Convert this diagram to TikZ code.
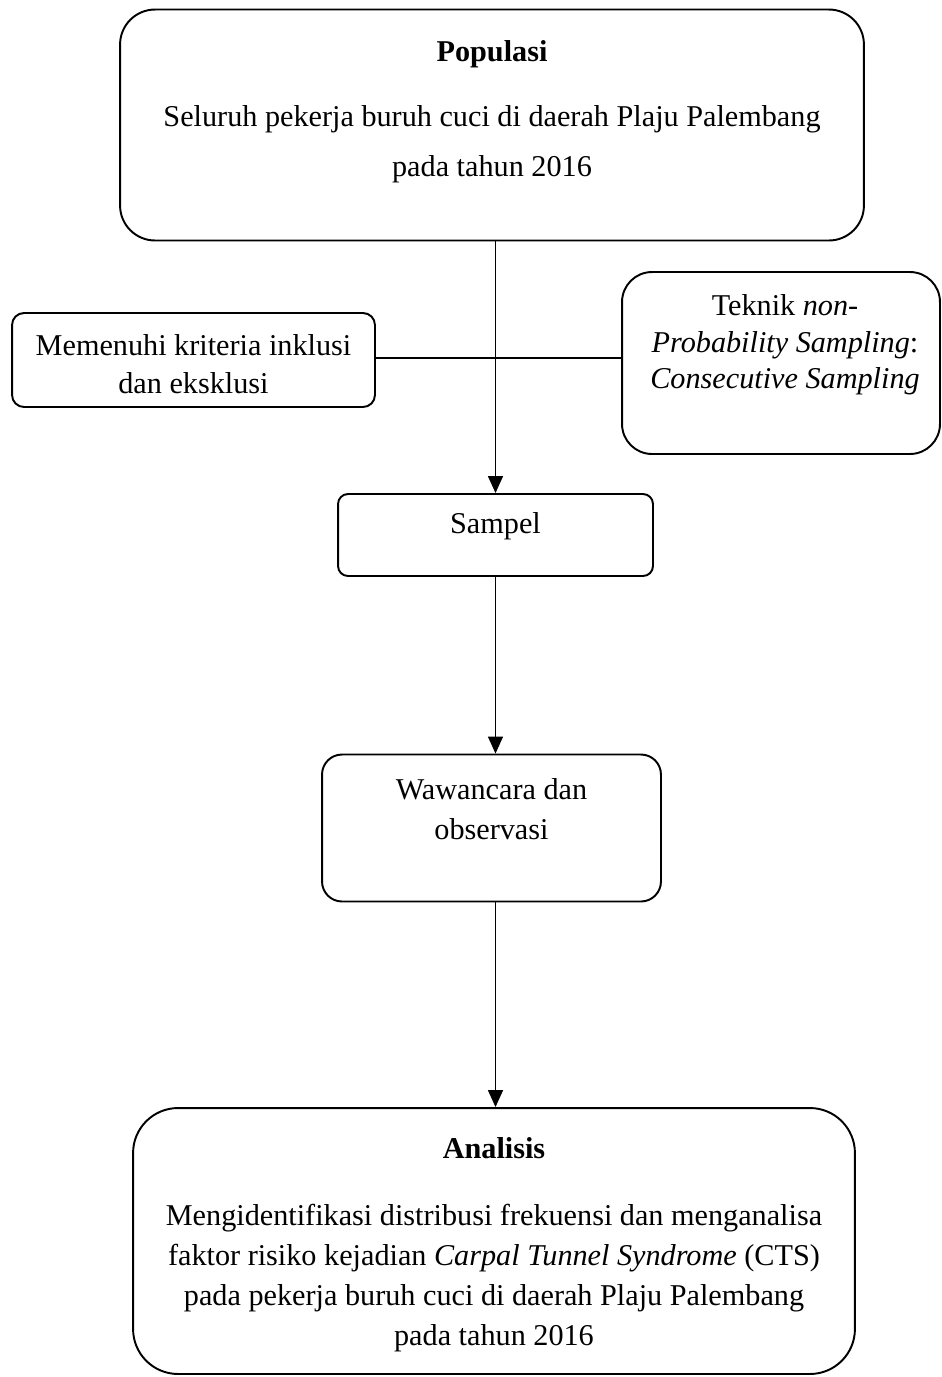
\documentclass[tikz,border=0pt]{standalone}
\usepackage{fontspec}
\setmainfont{Liberation Serif}
\usetikzlibrary{arrows.meta}

\begin{document}
\begin{tikzpicture}[->,>={Triangle[width=0.3cm,length=0.34cm]},line width=0.8pt,x=0.02cm,y=-0.02cm]
    \tikzstyle{box}=[draw=black, line width=1.1pt, rectangle, fill=none, inner sep=0pt]
    \tikzstyle{txt}=[align=center, text=black, inner sep=0pt, font=\fontsize{17.2}{22.8}\selectfont]
    \useasboundingbox (0,0) rectangle (942,1377);

    \node[box, minimum width=14.88cm, minimum height=4.62cm, rounded corners=0.7cm] (pop) at (492,125) {};
    \node[txt] (popt) at (492,112) {\textbf{Populasi}\\[14pt] Seluruh pekerja buruh cuci di daerah Plaju Palembang\\[6pt] pada tahun 2016};

    \node[box, minimum width=7.26cm, minimum height=1.88cm, rounded corners=0.24cm] (krit) at (193.5,360) {};
    \node[txt, font=\fontsize{17.2}{21.6}\selectfont] (kritt) at (193.5,364) {Memenuhi kriteria inklusi\\ dan eksklusi};

    \node[box, minimum width=6.36cm, minimum height=3.64cm, rounded corners=0.6cm] (tek) at (781,363) {};
    \node[txt, font=\fontsize{17.2}{20.8}\selectfont] (tekt) at (785,345) {Teknik \textit{non-}\\ \textit{Probability Sampling}:\\ \textit{Consecutive Sampling}};

    \node[box, minimum width=6.3cm, minimum height=1.64cm, rounded corners=0.2cm] (samp) at (495.5,535) {};
    \node[txt] (sampt) at (495.5,526) {Sampel};

    \node[box, minimum width=6.78cm, minimum height=2.94cm, rounded corners=0.4cm] (waw) at (491.5,828) {};
    \node[txt] (wawt) at (491.5,809) {Wawancara dan\\ observasi};

    \node[box, minimum width=14.44cm, minimum height=5.32cm, rounded corners=0.9cm] (ana) at (494,1241) {};
    \node[txt] (anat) at (494,1245) {\textbf{Analisis}\\[15pt] Mengidentifikasi distribusi frekuensi dan menganalisa\\ faktor risiko kejadian \textit{Carpal Tunnel Syndrome} (CTS)\\ pada pekerja buruh cuci di daerah Plaju Palembang\\ pada tahun 2016};

    \path
     (pop.south -| samp.north) edge[] (samp.north)
     (krit.east |- 0,358) edge[-] (tek.west |- 0,358)
     (samp.south) edge[] (samp.south |- waw.north)
     (waw.south -| samp.south) edge[] (samp.south |- ana.north)
     ;
\end{tikzpicture}
\end{document}
